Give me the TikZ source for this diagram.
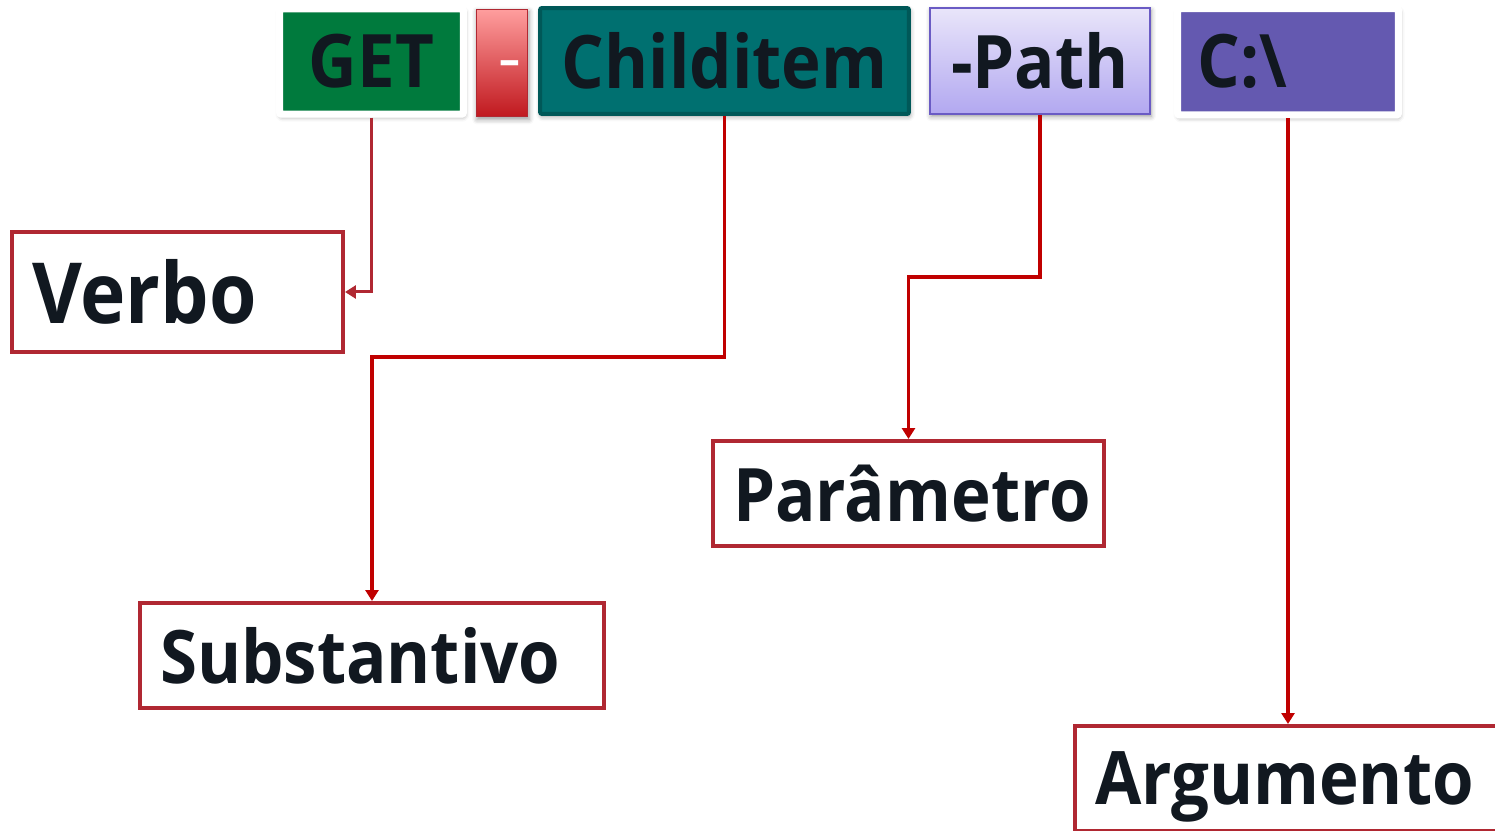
\documentclass[tikz,border=0pt]{standalone}
\usepackage{fontspec}
\setmainfont{Open Sans}[FakeStretch=0.91]
\usetikzlibrary{arrows.meta,shadows.blur}

\definecolor{getgreen}{RGB}{0,122,61}
\definecolor{tealbox}{RGB}{0,112,112}
\definecolor{tealline}{RGB}{0,88,88}
\definecolor{pathtop}{RGB}{233,229,250}
\definecolor{pathbot}{RGB}{178,168,240}
\definecolor{pathline}{RGB}{106,91,196}
\definecolor{argpurple}{RGB}{100,89,176}
\definecolor{minustop}{RGB}{255,158,158}
\definecolor{minusbot}{RGB}{192,24,30}
\definecolor{boxred}{RGB}{176,40,50}
\definecolor{linkred}{RGB}{192,0,0}
\definecolor{ink}{RGB}{17,24,32}

\tikzset{
  bigfont/.style={font=\fontsize{42}{48}\selectfont\bfseries, text=ink},
  soft/.style={blur shadow={shadow xshift=0.02cm, shadow yshift=-0.05cm,
    shadow blur radius=0.1cm, shadow opacity=40}},
  cmdbox/.style={bigfont, soft, inner sep=0pt},
  labelbox/.style={bigfont, draw=boxred, line width=0.08cm, fill=white,
    inner xsep=0.4cm, align=left, minimum height=2.1cm},
  link/.style={draw=linkred, line width=0.07cm, -{Triangle[length=0.22cm,width=0.26cm]}},
}

\begin{document}
\begin{tikzpicture}[x=0.02cm, y=-0.02cm]
  \useasboundingbox (0,0) rectangle (1495,831);
  \clip (0,0) rectangle (1495,831);

  % comando
  \node[cmdbox, fill=getgreen, draw=white, line width=0.14cm, rounded corners=0.04cm,
        minimum width=3.68cm, minimum height=2.11cm] (get) at (371.5,61.5) {GET};
  \node[cmdbox, top color=minustop, bottom color=minusbot, draw=boxred, line width=0.02cm,
        minimum width=1.04cm, minimum height=2.16cm] (minus) at (502,63) {};
  \node[font=\fontsize{26}{30}\selectfont\bfseries, text=white, inner sep=0pt] (dash) at (510,68) {–};
  \node[cmdbox, fill=tealbox, draw=tealline, line width=0.08cm, rounded corners=0.04cm,
        minimum width=7.38cm, minimum height=2.12cm] (child) at (724.5,61) {Childitem};
  \node[cmdbox, top color=pathtop, bottom color=pathbot, draw=pathline, line width=0.04cm,
        minimum width=4.40cm, minimum height=2.12cm] (path) at (1040,61) {-Path};
  \node[cmdbox, fill=argpurple, draw=white, line width=0.14cm, rounded corners=0.04cm,
        inner xsep=0.4cm, text width=3.62cm, align=left,
        minimum height=2.13cm] (cdrive) at (1288,61.75) {C:\textbackslash};

  % rotulos
  \node[labelbox, font=\fontsize{48}{54}\selectfont\bfseries, text width=5.82cm,
        minimum height=2.4cm] (verbo) at (177.5,292) {Verbo};
  \node[labelbox, text width=8.48cm] (subst) at (372,655.5) {Substantivo};
  \node[labelbox, text width=7.02cm] (param) at (908.5,493.5) {Parâmetro};
  \node[labelbox, text width=8.4cm, text depth=0pt] (arg) at (1305,778.5) {Argumento};

  % ligacoes
  \coordinate (bend1) at (372,357);
  \coordinate (bend2) at (908.5,277);
  \draw[link, draw=boxred, line width=0.06cm] (get.south) |- (verbo.east);
  \draw[link] (child.south) |- (bend1) -- (subst.north);
  \draw[link] (path.south) |- (bend2) -- (param.north);
  \draw[link] (cdrive.south) -- (cdrive.south |- arg.north);
\end{tikzpicture}
\end{document}
